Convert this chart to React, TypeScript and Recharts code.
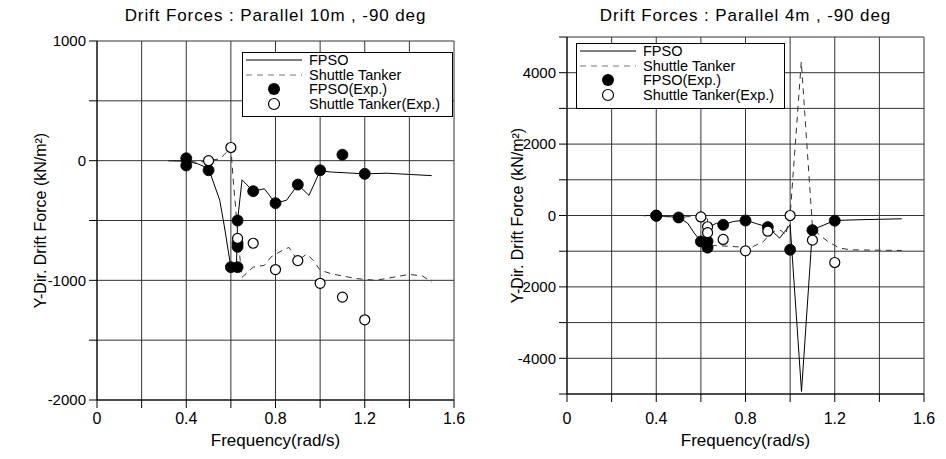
import React from 'react';
import { ComposedChart, Line, Scatter, XAxis, YAxis, CartesianGrid, Legend } from 'recharts';

// ---------- data: left chart (Parallel 10m) ----------
const fpsoLeft = [
  { x: 0.32, y: 0 }, { x: 0.4, y: -5 }, { x: 0.45, y: -25 }, { x: 0.5, y: -65 }, { x: 0.55, y: -330 },
  { x: 0.57, y: -540 }, { x: 0.6, y: -890 }, { x: 0.625, y: -890 }, { x: 0.63, y: -500 }, { x: 0.65, y: -160 },
  { x: 0.7, y: -255 }, { x: 0.75, y: -235 }, { x: 0.8, y: -355 }, { x: 0.85, y: -330 }, { x: 0.9, y: -200 },
  { x: 0.95, y: -290 }, { x: 1.0, y: -85 }, { x: 1.05, y: -95 }, { x: 1.2, y: -110 }, { x: 1.3, y: -105 },
  { x: 1.5, y: -125 },
];
const shuttleLeft = [
  { x: 0.32, y: 0 }, { x: 0.4, y: 0 }, { x: 0.45, y: -15 }, { x: 0.5, y: 0 }, { x: 0.55, y: 15 },
  { x: 0.57, y: 50 }, { x: 0.6, y: 110 }, { x: 0.61, y: -150 }, { x: 0.64, y: -800 }, { x: 0.65, y: -975 },
  { x: 0.7, y: -890 }, { x: 0.75, y: -875 }, { x: 0.78, y: -805 }, { x: 0.83, y: -750 }, { x: 0.86, y: -725 },
  { x: 0.9, y: -835 }, { x: 0.94, y: -780 }, { x: 0.97, y: -835 }, { x: 1.0, y: -915 }, { x: 1.05, y: -945 },
  { x: 1.16, y: -985 }, { x: 1.25, y: -1000 }, { x: 1.31, y: -980 }, { x: 1.4, y: -950 }, { x: 1.46, y: -965 },
  { x: 1.5, y: -1015 },
];
const fpsoExpLeft = [
  { x: 0.4, y: 20 }, { x: 0.4, y: -40 }, { x: 0.5, y: -80 }, { x: 0.6, y: -890 }, { x: 0.63, y: -890 },
  { x: 0.63, y: -500 }, { x: 0.63, y: -690 }, { x: 0.63, y: -720 }, { x: 0.7, y: -255 }, { x: 0.8, y: -355 },
  { x: 0.9, y: -200 }, { x: 1.0, y: -80 }, { x: 1.1, y: 50 }, { x: 1.2, y: -110 },
];
const shuttleExpLeft = [
  { x: 0.5, y: 0 }, { x: 0.6, y: 110 }, { x: 0.63, y: -650 }, { x: 0.7, y: -690 }, { x: 0.8, y: -910 },
  { x: 0.9, y: -835 }, { x: 1.0, y: -1025 }, { x: 1.1, y: -1140 }, { x: 1.2, y: -1330 },
];

// ---------- data: right chart (Parallel 4m) ----------
const fpsoRight = [
  { x: 0.33, y: 0 }, { x: 0.4, y: 0 }, { x: 0.5, y: -56 }, { x: 0.54, y: -210 }, { x: 0.57, y: -490 },
  { x: 0.6, y: -728 }, { x: 0.63, y: -900 }, { x: 0.635, y: -330 }, { x: 0.67, y: -215 }, { x: 0.7, y: -260 },
  { x: 0.745, y: -168 }, { x: 0.8, y: -130 }, { x: 0.85, y: -230 }, { x: 0.9, y: -325 }, { x: 0.953, y: -633 },
  { x: 1.0, y: -260 }, { x: 1.051, y: -4930 }, { x: 1.1, y: -400 }, { x: 1.2, y: -140 }, { x: 1.3, y: -120 },
  { x: 1.5, y: -92 },
];
const shuttleRight = [
  { x: 0.33, y: 0 }, { x: 0.4, y: -20 }, { x: 0.5, y: -50 }, { x: 0.55, y: -30 }, { x: 0.6, y: -40 },
  { x: 0.63, y: -100 }, { x: 0.632, y: -900 }, { x: 0.66, y: -840 }, { x: 0.72, y: -860 }, { x: 0.77, y: -880 },
  { x: 0.8, y: -990 }, { x: 0.834, y: -870 }, { x: 0.88, y: -730 }, { x: 0.92, y: -450 }, { x: 0.96, y: -420 },
  { x: 0.98, y: -550 }, { x: 1.0, y: 0 }, { x: 1.05, y: 4310 }, { x: 1.1, y: -310 }, { x: 1.13, y: -540 },
  { x: 1.17, y: -730 }, { x: 1.22, y: -910 }, { x: 1.27, y: -960 }, { x: 1.5, y: -980 },
];
const fpsoExpRight = [
  { x: 0.4, y: 0 }, { x: 0.4, y: -10 }, { x: 0.5, y: -56 }, { x: 0.6, y: -728 }, { x: 0.63, y: -728 },
  { x: 0.63, y: -900 }, { x: 0.7, y: -260 }, { x: 0.8, y: -140 }, { x: 0.9, y: -325 }, { x: 1.0, y: -960 },
  { x: 1.1, y: -410 }, { x: 1.2, y: -145 },
];
const shuttleExpRight = [
  { x: 0.6, y: -40 }, { x: 0.63, y: -315 }, { x: 0.63, y: -480 }, { x: 0.7, y: -670 }, { x: 0.8, y: -990 },
  { x: 0.9, y: -440 }, { x: 1.0, y: 0 }, { x: 1.1, y: -690 }, { x: 1.2, y: -1316 },
];

// ---------- ticks & labels ----------
const xTicks = [0, 0.2, 0.4, 0.6, 0.8, 1.0, 1.2, 1.4, 1.6];
const yTicksLeft = [-2000, -1500, -1000, -500, 0, 500, 1000];
const yTicksRight = [-5000, -4000, -3000, -2000, -1000, 0, 1000, 2000, 3000, 4000, 5000];
const titleLeft = 'Drift Forces : Parallel 10m , -90 deg';
const titleRight = 'Drift Forces : Parallel 4m , -90 deg';
const xTitle = 'Frequency(rad/s)';
const yTitle = 'Y-Dir. Drift Force (kN/m\u00B2)';
const legendNames = ['FPSO', 'Shuttle Tanker', 'FPSO(Exp.)', 'Shuttle Tanker(Exp.)'];

const FONT = '"Liberation Sans", Arial, sans-serif';
const DASH = '6 5';

const fmtX = (v: number) => {
  const t = Math.round(v * 10);
  if (t % 4 !== 0) return '';
  return t === 0 ? '0' : v.toFixed(1);
};
const fmtYLeft = (v: number) => (v % 1000 === 0 ? String(v) : '');
const fmtYRight = (v: number) => (v % 2000 === 0 && Math.abs(v) < 5000 ? String(v) : '');

const filledDot = (p: any) => <circle cx={p.cx} cy={p.cy} r={5.5} fill="#000" stroke="#000" strokeWidth={0.8} />;
const openDot = (p: any) => <circle cx={p.cx} cy={p.cy} r={5} fill="#fff" stroke="#000" strokeWidth={1.2} />;

const LegendBox = ({ w, h }: { w: number; h: number }) => {
  const icon = (i: number) => (
    <svg width={62} height={14} style={{ display: 'block', flex: 'none' }}>
      {i === 0 && <line x1={3} x2={59} y1={7} y2={7} stroke="#000" strokeWidth={1} />}
      {i === 1 && <line x1={3} x2={59} y1={7} y2={7} stroke="#777" strokeWidth={1.2} strokeDasharray={DASH} />}
      {i === 2 && <circle cx={31} cy={7} r={6} fill="#000" />}
      {i === 3 && <circle cx={31} cy={7} r={5.5} fill="#fff" stroke="#000" strokeWidth={1.2} />}
    </svg>
  );
  return (
    <div style={{ width: w, height: h, boxSizing: 'border-box', border: '1px solid #000', background: '#fff', fontFamily: FONT, fontSize: 14.5, color: '#000', paddingTop: 0 }}>
      {legendNames.map((n, i) => (
        <div key={n} style={{ display: 'flex', alignItems: 'center', height: 14.6, lineHeight: '14.6px', whiteSpace: 'nowrap' }}>
          {icon(i)}
          <span style={{ marginLeft: 4 }}>{n}</span>
        </div>
      ))}
    </div>
  );
};

type PanelProps = {
  left: number;
  title: string;
  fpso: { x: number; y: number }[];
  shuttle: { x: number; y: number }[];
  fpsoExp: { x: number; y: number }[];
  shuttleExp: { x: number; y: number }[];
  yTicks: number[];
  yFmt: (v: number) => string;
  margin: { top: number; right: number; left: number; bottom: number };
  yAxisWidth: number;
  xAxisHeight: number;
  tickMargin: number;
  legendPos: { left: number; top: number; width: number; height: number };
  yTitleX: number;
};

const Panel = (p: PanelProps) => {
  const W = 473;
  const H = 459;
  const plotL = p.margin.left + p.yAxisWidth;
  const plotR = W - p.margin.right;
  const plotT = p.margin.top;
  const plotB = H - p.xAxisHeight;
  const cx = (plotL + plotR) / 2;
  const cy = (plotT + plotB) / 2;
  return (
    <div style={{ position: 'absolute', left: p.left, top: 0, width: W, height: H }}>
      <div style={{ position: 'absolute', left: 0, top: 6, width: W, textAlign: 'center', fontFamily: FONT, fontSize: 17, color: '#000', whiteSpace: 'nowrap' }}>
        <span style={{ position: 'absolute', left: cx, transform: 'translateX(-50%)', letterSpacing: 0.9 }}>{p.title}</span>
      </div>
      <ComposedChart width={W} height={H} margin={p.margin} style={{ position: 'absolute', left: 0, top: 0 }}>
        <CartesianGrid stroke="#333" strokeWidth={1} horizontalValues={p.yTicks} verticalValues={xTicks} />
        <XAxis
          type="number"
          dataKey="x"
          domain={[0, 1.6]}
          ticks={xTicks}
          tickFormatter={fmtX}
          interval={0}
          height={p.xAxisHeight}
          tickSize={8}
          tickMargin={p.tickMargin}
          stroke="#000"
          tick={{ fill: '#000', fontFamily: FONT, fontSize: 16 }}
          allowDataOverflow
          label={{
            content: () => (
              <text x={cx} y={446} textAnchor="middle" fontFamily={FONT} fontSize={17} fill="#000">{xTitle}</text>
            ),
          }}
        />
        <YAxis
          type="number"
          domain={[p.yTicks[0], p.yTicks[p.yTicks.length - 1]]}
          ticks={p.yTicks}
          tickFormatter={p.yFmt}
          interval={0}
          width={p.yAxisWidth}
          tickSize={8}
          tickMargin={3}
          stroke="#000"
          tick={{ fill: '#000', fontFamily: FONT, fontSize: 15 }}
          allowDataOverflow
          label={{
            content: () => (
              <text
                x={p.yTitleX}
                y={cy}
                transform={`rotate(-90, ${p.yTitleX}, ${cy})`}
                textAnchor="middle"
                dominantBaseline="central"
                fontFamily={FONT}
                fontSize={16}
                fill="#000"
              >
                {yTitle}
              </text>
            ),
          }}
        />
        <Line data={p.fpso} dataKey="y" type="linear" stroke="#000" strokeWidth={1} dot={false} isAnimationActive={false} name={legendNames[0]} />
        <Line data={p.shuttle} dataKey="y" type="linear" stroke="#333" strokeWidth={1} strokeDasharray={DASH} dot={false} isAnimationActive={false} name={legendNames[1]} />
        <Scatter data={p.fpsoExp} dataKey="y" shape={filledDot} isAnimationActive={false} name={legendNames[2]} />
        <Scatter data={p.shuttleExp} dataKey="y" shape={openDot} isAnimationActive={false} name={legendNames[3]} />
        <Legend
          layout="vertical"
          align="center"
          verticalAlign="middle"
          wrapperStyle={{ ...p.legendPos, position: 'absolute', margin: 0, padding: 0 }}
          content={() => <LegendBox w={p.legendPos.width} h={p.legendPos.height} />}
        />
      </ComposedChart>
    </div>
  );
};

export default function App() {
  return (
    <div style={{ position: 'absolute', left: 0, top: 0, width: 946, height: 459, background: '#fff', overflow: 'hidden' }}>
      <Panel
        left={0}
        title={titleLeft}
        fpso={fpsoLeft}
        shuttle={shuttleLeft}
        fpsoExp={fpsoExpLeft}
        shuttleExp={shuttleExpLeft}
        yTicks={yTicksLeft}
        yFmt={fmtYLeft}
        margin={{ top: 41, right: 19, left: 0, bottom: 0 }}
        yAxisWidth={97}
        xAxisHeight={59}
        tickMargin={5}
        legendPos={{ left: 242, top: 52, width: 211, height: 65 }}
        yTitleX={40}
      />
      <Panel
        left={473}
        title={titleRight}
        fpso={fpsoRight}
        shuttle={shuttleRight}
        fpsoExp={fpsoExpRight}
        shuttleExp={shuttleExpRight}
        yTicks={yTicksRight}
        yFmt={fmtYRight}
        margin={{ top: 37, right: 22, left: 0, bottom: 0 }}
        yAxisWidth={94}
        xAxisHeight={65}
        tickMargin={11}
        legendPos={{ left: 103, top: 43, width: 209, height: 66 }}
        yTitleX={44}
      />
    </div>
  );
}
